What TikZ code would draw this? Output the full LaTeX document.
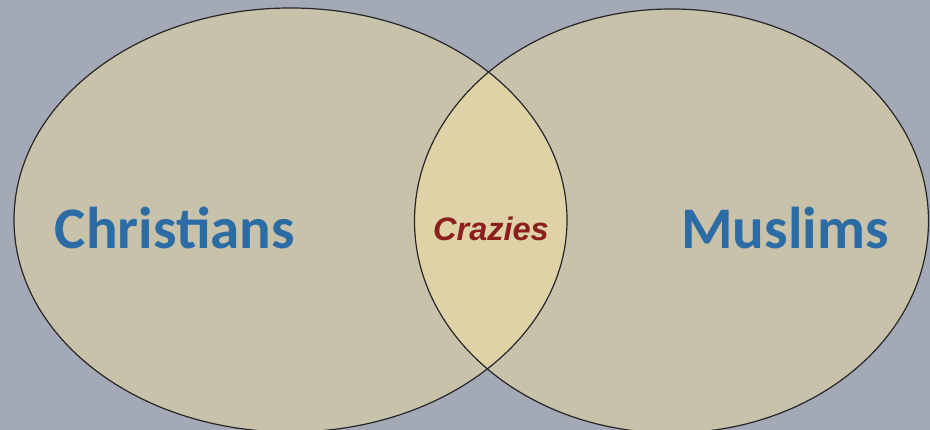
\documentclass[tikz,border=0pt]{standalone}
\usepackage{fontspec}
\setmainfont{Carlito}
\newfontfamily\arialbi{Liberation Sans}[BoldItalicFont={* Bold Italic}]
\definecolor{bgc}{RGB}{163,169,181}
\definecolor{setc}{RGB}{201,194,171}
\definecolor{lensc}{RGB}{222,210,166}
\definecolor{bluet}{RGB}{44,108,165}
\definecolor{redt}{RGB}{140,30,30}
\tikzset{
  setline/.style={draw=black!85, line width=1.2pt},
  bigname/.style={text=bluet, font=\fontsize{59}{60}\selectfont\bfseries},
  midname/.style={text=redt, font=\arialbi\fontsize{32.5}{34}\selectfont\bfseries\itshape}
}
\begin{document}
\begin{tikzpicture}[x=1pt,y=-1pt]
\useasboundingbox (0,0) rectangle (930,430);
\clip (0,0) rectangle (930,430);
\fill[bgc] (0,0) rectangle (930,430);
\fill[setc] (290.5,220) ellipse [x radius=276.5, y radius=212];
\fill[setc] (671.5,221) ellipse [x radius=257, y radius=212];
\begin{scope}
  \clip (290.5,220) ellipse [x radius=276.5, y radius=212];
  \fill[lensc] (671.5,221) ellipse [x radius=257, y radius=212];
\end{scope}
\draw[setline] (290.5,220) ellipse [x radius=276.5, y radius=212];
\draw[setline] (671.5,221) ellipse [x radius=257, y radius=212];
\node[bigname] (chr) at (175,228) {Christians};
\node[bigname] (mus) at (785,228) {Muslims};
\node[midname] (cra) at (491,229) {Crazies};
\end{tikzpicture}
\end{document}
